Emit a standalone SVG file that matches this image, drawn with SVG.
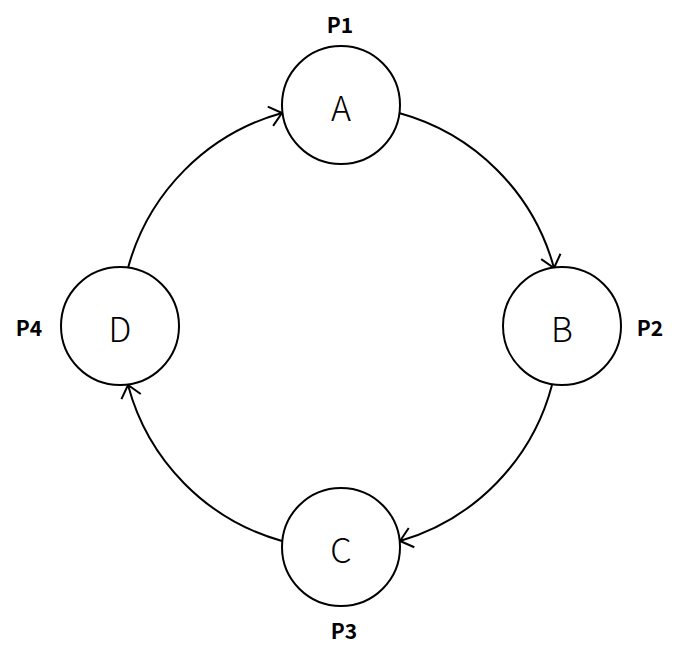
<svg xmlns="http://www.w3.org/2000/svg" width="680" height="659" viewBox="0 0 680 659">
<style>
.node circle{fill:#fff;stroke:#000;stroke-width:2}
.lbl{font-family:"Noto Sans CJK SC","Noto Sans",sans-serif;font-size:34px;font-weight:300;text-anchor:middle;dominant-baseline:central;fill:#000}
.p{font-family:"Noto Sans CJK SC","Noto Sans",sans-serif;font-size:21px;font-weight:700;text-anchor:middle;dominant-baseline:central;fill:#000}
.edges path{fill:none;stroke:#000;stroke-width:2;marker-end:url(#arr)}
</style>
<defs>
<marker id="arr" markerUnits="userSpaceOnUse" viewBox="-14 -12 16 24" refX="0" refY="0" markerWidth="16" markerHeight="24" orient="auto" overflow="visible">
<path d="M-12,-10 L0,0 L-12,10" fill="none" stroke="#000" stroke-width="2"/>
</marker>
</defs>
<rect width="680" height="659" fill="#fff"/>
<g class="edges" id="connectors">
<path d="M399,113 A221,221 0 0 1 554,268"/>
<path d="M552,385 A221,221 0 0 1 400,541"/>
<path d="M282,541 A221,221 0 0 1 128,385"/>
<path d="M128,268 A221,221 0 0 1 282,113"/>
</g>
<g class="node" id="A"><circle cx="341" cy="105" r="59"/><text class="lbl" x="341" y="106">A</text><text class="p" x="340" y="24">P1</text></g>
<g class="node" id="B"><circle cx="562" cy="326" r="59"/><text class="lbl" x="562" y="327">B</text><text class="p" x="650" y="327">P2</text></g>
<g class="node" id="C"><circle cx="341" cy="547" r="59"/><text class="lbl" x="341" y="548">C</text><text class="p" x="344" y="630">P3</text></g>
<g class="node" id="D"><circle cx="120" cy="326" r="59"/><text class="lbl" x="120" y="327">D</text><text class="p" x="29" y="327">P4</text></g>
</svg>
